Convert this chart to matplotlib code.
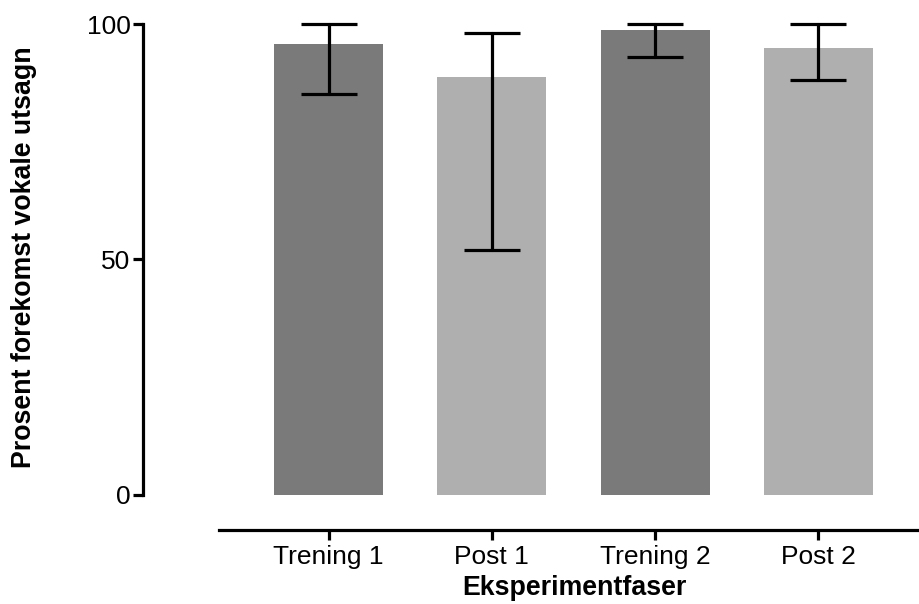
import matplotlib
matplotlib.use("Agg")
import matplotlib.pyplot as plt
import numpy as np

# data
faser = ["Trening 1", "Post 1", "Trening 2", "Post 2"]
prosent = [95.8, 88.7, 98.7, 94.9]
feil_lav = [85.1, 52.0, 93.0, 88.0]
feil_hoy = [100.0, 98.0, 100.0, 100.0]
farger = ["#7a7a7a", "#afafb0", "#7a7a7a", "#afafb0"]

plt.rcParams["font.family"] = ["Liberation Sans", "DejaVu Sans"]

fig = plt.figure(figsize=(9.2, 6.04), dpi=100)
ax = fig.add_axes([143 / 920, 74 / 604, 1 - 143 / 920, (580 - 74) / 604])

x = np.arange(len(faser))
ax.bar(x, prosent, width=0.667, color=farger, zorder=1)

yerr = [np.array(prosent) - np.array(feil_lav), np.array(feil_hoy) - np.array(prosent)]
eb = ax.errorbar(x, prosent, yerr=yerr, fmt="none", ecolor="black",
                 elinewidth=2.3, capsize=20.5, capthick=2.3, zorder=3)
for ln in eb[1]:
    ln.set_clip_on(False)
for lc in eb[2]:
    lc.set_clip_on(False)
    lc.set_capstyle("round")

ax.set_xlim(-1.136, 3.622)
ax.set_ylim(-7.5, 100)

for s in ["top", "right"]:
    ax.spines[s].set_visible(False)
ax.spines["left"].set_bounds(0, 100)
ax.spines["bottom"].set_bounds(-0.67, 3.622)
ax.spines["left"].set_linewidth(2.3)
ax.spines["bottom"].set_linewidth(2.3)

ax.set_yticks([0, 50, 100])
ax.set_xticks(x)
ax.set_xticklabels(faser)
ax.tick_params(axis="both", width=2.3, length=7, labelsize=19, color="black")
ax.tick_params(axis="y", pad=2)
ax.tick_params(axis="x", pad=4)

ax.set_ylabel("Prosent forekomst vokale utsagn", fontsize=19.3, fontweight="bold")
ax.set_xlabel("Eksperimentfaser", fontsize=19.3, fontweight="bold", va="top")
ax.yaxis.set_label_coords(-0.136, 0.54)
ax.xaxis.set_label_coords(0.555, -0.089)

fig.savefig("out.png", dpi=100)
